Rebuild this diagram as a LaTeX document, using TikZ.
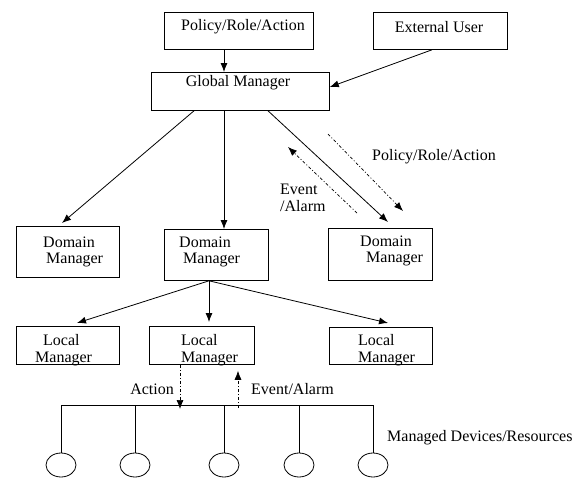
\documentclass[tikz,border=0pt]{standalone}
\usepackage{fontspec}
\setmainfont{Liberation Serif}
\usetikzlibrary{arrows.meta,shapes.geometric}
\begin{document}
\begin{tikzpicture}[x=1pt,y=-1pt,
  every node/.style={font=\fontsize{16}{16.5}\selectfont},
  box/.style={draw, line width=0.8pt, rectangle, inner sep=0pt, anchor=north west},
  txt/.style={inner sep=0pt},
  pair/.style={inner sep=0pt, align=left, anchor=west},
  link/.style={line width=0.8pt, -{Latex[length=9pt,width=7pt]}},
  msg/.style={line width=0.7pt, dash pattern=on 3pt off 2pt on 1pt off 2pt, -{Latex[length=9pt,width=7pt]}},
  wire/.style={line width=0.8pt},
  dev/.style={draw, line width=0.8pt, ellipse, minimum width=30pt, minimum height=24pt, inner sep=0pt}]
\useasboundingbox (0,0) rectangle (587,479);

% boxes
\node[box, minimum width=149pt, minimum height=37pt] (pra) at (164,12) {};
\node[box, minimum width=134pt, minimum height=37pt] (ext) at (373,12) {};
\node[box, minimum width=178pt, minimum height=38pt] (gm) at (151,72) {};
\node[box, minimum width=103pt, minimum height=51pt] (dmL) at (16,226) {};
\node[box, minimum width=104pt, minimum height=51pt] (dmM) at (164,229) {};
\node[box, minimum width=104pt, minimum height=52pt] (dmR) at (328,228) {};
\node[box, minimum width=103pt, minimum height=38pt] (lmL) at (16,326) {};
\node[box, minimum width=105pt, minimum height=38pt] (lmM) at (149,326) {};
\node[box, minimum width=103pt, minimum height=37pt] (lmR) at (329,327) {};

% box texts
\node[txt] (tpra) at (243,27) {Policy/Role/Action};
\node[txt] (text) at (439,27) {External User};
\node[txt] (tgm) at (238,83) {Global Manager};
\node[pair] (tdmL) at (43,252) {Domain\\\hspace*{3pt}Manager};
\node[pair] (tdmM) at (179,252) {Domain\\\hspace*{4pt}Manager};
\node[pair] (tdmR) at (360,251) {Domain\\\hspace*{6pt}Manager};
\node[pair] (tlmL) at (35,350) {\hspace*{8pt}Local\\Manager};
\node[pair] (tlmM) at (181,350) {Local\\Manager};
\node[pair] (tlmR) at (358,350) {Local\\Manager};

% hierarchy links
\draw[link] ([xshift=60pt]pra.south west) -- ([xshift=73pt]gm.north west);
\draw[link] ([xshift=59pt]ext.south west) -- ([yshift=-15pt]gm.north east);
\draw[link] ([xshift=43pt]gm.south west) -- ([xshift=46pt,yshift=3pt]dmL.north west);
\draw[link] ([xshift=73pt]gm.south west) -- ([xshift=60pt]dmM.north west);
\draw[link] ([xshift=117pt]gm.south west) -- ([xshift=60pt,yshift=6pt]dmR.north west);
\draw[link] ([xshift=45pt]dmM.south west) -- ([xshift=61pt,yshift=3pt]lmL.north west);
\draw[link] ([xshift=45pt]dmM.south west) -- ([xshift=60pt,yshift=4pt]lmM.north west);
\draw[link] ([xshift=45pt]dmM.south west) -- ([xshift=59pt,yshift=4pt]lmR.north west);

% policy / event exchange with the right domain manager
\coordinate (pdA) at (328,134);
\coordinate (pdB) at (403,211);
\coordinate (evA) at (357,213);
\coordinate (evB) at (288,147);
\draw[msg] (pdA) -- (pdB);
\draw[msg] (evA) -- (evB);
\node[txt] (lpra) at (434,157) {Policy/Role/Action};
\node[pair] (lev) at (280,198) {Event\\/Alarm};

% device bus
\coordinate (b1) at (61,405);
\coordinate (b2) at (135,405);
\coordinate (b3) at (224,405);
\coordinate (b4) at (299,405);
\coordinate (b5) at (373,405);
\coordinate (act) at (180,409);
\coordinate (evt) at (238,408);
\draw[wire] (b1) -- (b5);
\node[dev] (d1) at (61,465) {};
\node[dev] (d2) at (135,465) {};
\node[dev] (d3) at (224,465) {};
\node[dev] (d4) at (299,465) {};
\node[dev] (d5) at (373,465) {};
\foreach \i in {1,...,5} \draw[wire] (b\i) -- (d\i.north);

\draw[msg] ([xshift=31pt]lmM.south west) -- (act);
\draw[msg] (evt) -- ([xshift=89pt,yshift=-6pt]lmM.south west);
\node[txt, anchor=east] (lact) at (174,389) {Action};
\node[txt, anchor=west] (levt) at (251,389) {Event/Alarm};
\node[txt, anchor=west] (ldev) at (387,438) {Managed Devices/Resources};
\end{tikzpicture}
\end{document}
